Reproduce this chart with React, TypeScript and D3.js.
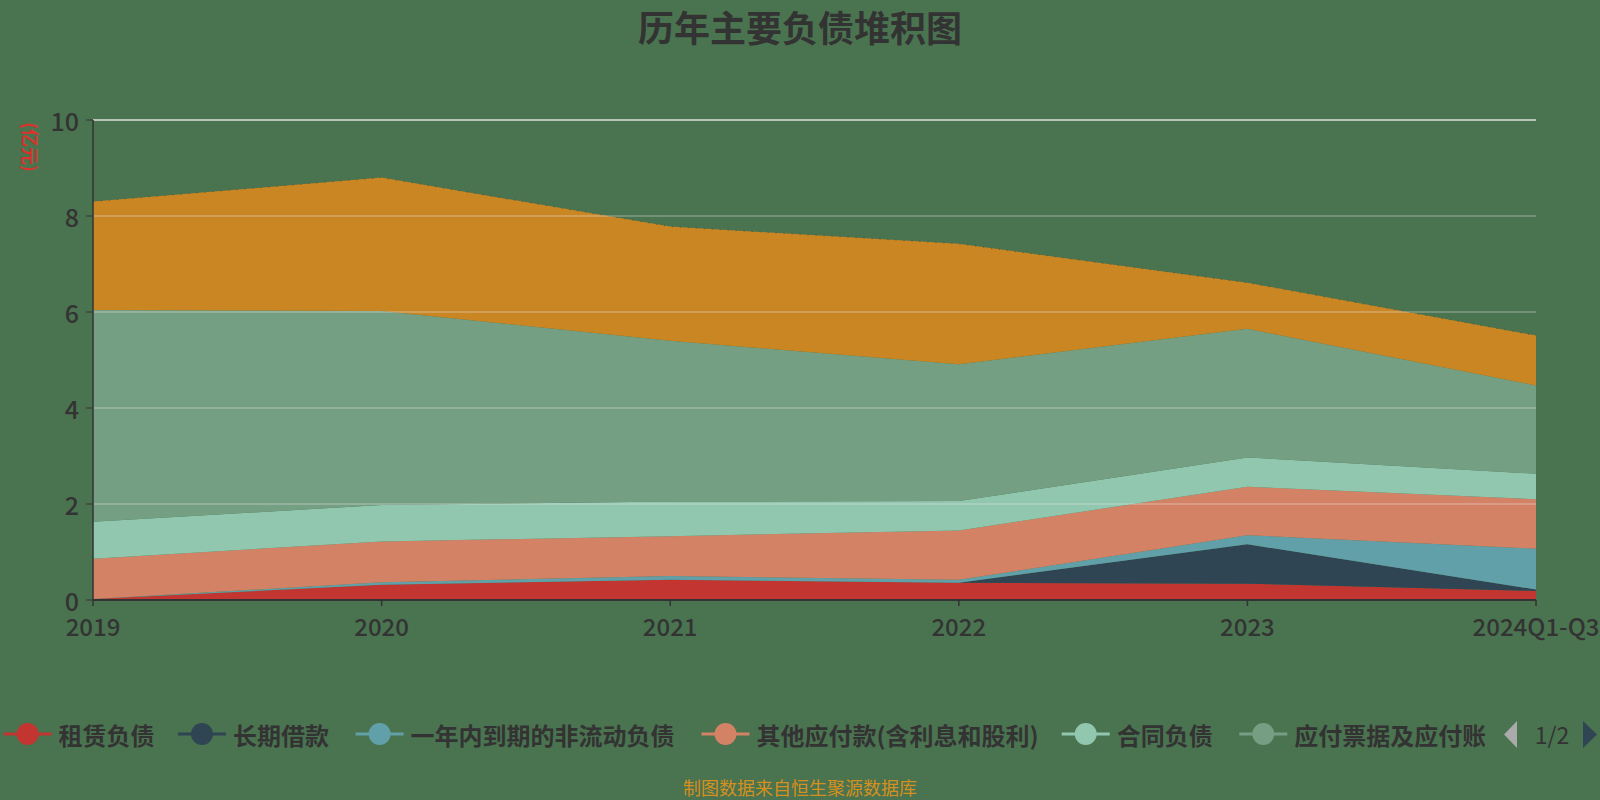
import React from 'react';
import * as d3 from 'd3';

const years = ['2019', '2020', '2021', '2022', '2023', '2024Q1-Q3'];
const seriesNames = ['租赁负债', '长期借款', '一年内到期的非流动负债', '其他应付款(含利息和股利)', '合同负债', '应付票据及应付账款', '短期借款'];
const leaseLiab = [0.02, 0.32, 0.42, 0.36, 0.34, 0.19];
const longLoan = [0, 0, 0, 0, 0.82, 0.03];
const currentNonCurrent = [0, 0.05, 0.08, 0.06, 0.19, 0.85];
const otherPayables = [0.84, 0.85, 0.83, 1.03, 1.01, 1.03];
const contractLiab = [0.77, 0.76, 0.72, 0.61, 0.61, 0.53];
const notesPayable = [4.41, 4.04, 3.35, 2.85, 2.68, 1.84];
const shortLoan = [2.26, 2.78, 2.38, 2.51, 0.96, 1.04];
const yTicks = [0, 2, 4, 6, 8, 10];
const colors = ['#c23531', '#2f4554', '#61a0a8', '#d48265', '#91c7ae', '#749f83', '#ca8622'];

const W = 1600, H = 800;
const FONT = '"Noto Sans CJK SC", "Noto Sans", sans-serif';

export default function App() {
  const allSeries = [leaseLiab, longLoan, currentNonCurrent, otherPayables, contractLiab, notesPayable, shortLoan];
  const table = years.map((y, i) => {
    const row: any = { year: y };
    seriesNames.forEach((n, k) => { row[n] = allSeries[k][i]; });
    return row;
  });
  const stacked = d3.stack().keys(seriesNames)(table as any);
  const x = d3.scalePoint().domain(years).range([93, 1536]);
  const y = d3.scaleLinear().domain([0, 10]).range([600, 120]);
  const area = d3.area<any>()
    .x((d: any) => x(d.data.year) as number)
    .y0((d: any) => y(d[0]))
    .y1((d: any) => y(d[1]));
  const line = d3.line<any>()
    .x((d: any) => x(d.data.year) as number)
    .y((d: any) => y(d[1]));

  const legendMarkers = [27.6, 202, 379.6, 725.5, 1085.7, 1263.3];

  return (
    <svg width={W} height={H} style={{ display: 'block', position: 'absolute', left: 0, top: 0 }} xmlns="http://www.w3.org/2000/svg">
      <defs>
        <clipPath id="legclip"><rect x={0} y={700} width={1485} height={60} /></clipPath>
      </defs>
      <rect x={0} y={0} width={W} height={H} fill="#4a7350" />
      <text x={800} y={26} textAnchor="middle" dominantBaseline="central" fontFamily={FONT} fontWeight="bold" fontSize={36} fill="#333">历年主要负债堆积图</text>

      {stacked.map((s: any, i: number) => (
        <path key={'a' + i} d={area(s) as string} fill={colors[i]} />
      ))}
      <path d={line(stacked[6] as any) as string} fill="none" stroke="#333" strokeWidth={1} strokeOpacity={0.6} strokeDasharray="1,7" />

      {yTicks.map((t) => (
        <g key={'g' + t}>
          <line x1={93} x2={1536} y1={y(t)} y2={y(t)} stroke="#e6e6e6" strokeOpacity={t === 10 ? 0.95 : 0.35} strokeWidth={1.5} />
          <line x1={86} x2={93} y1={y(t)} y2={y(t)} stroke="#333" strokeWidth={1} />
          <text x={79} y={y(t)} textAnchor="end" dominantBaseline="central" fontFamily={FONT} fontWeight={500} fontSize={25} fill="#333">{t}</text>
        </g>
      ))}
      <line x1={93} x2={93} y1={120} y2={600} stroke="#333" strokeWidth={1.5} />
      <line x1={93} x2={1536} y1={600} y2={600} stroke="#333" strokeWidth={2} />
      {years.map((yr) => (
        <g key={'x' + yr}>
          <line x1={x(yr)} x2={x(yr)} y1={600} y2={606} stroke="#333" strokeWidth={1.5} />
          <text x={x(yr)} y={625} textAnchor="middle" dominantBaseline="central" fontFamily={FONT} fontWeight={500} fontSize={24} fill="#333">{yr}</text>
        </g>
      ))}
      <text transform="translate(31,147) rotate(90)" textAnchor="middle" dominantBaseline="central" fontFamily={FONT} fontWeight="bold" fontSize={18} fill="#d9342b">(亿元)</text>

      <g clipPath="url(#legclip)">
        {legendMarkers.map((mx, i) => (
          <g key={'l' + i}>
            <line x1={mx - 24} x2={mx + 24} y1={734} y2={734} stroke={colors[i]} strokeWidth={3} />
            <circle cx={mx} cy={734} r={11} fill={colors[i]} />
            <text x={mx + 31} y={734} dominantBaseline="central" fontFamily={FONT} fontWeight="bold" fontSize={24} fill="#333">{seriesNames[i]}</text>
          </g>
        ))}
      </g>
      <path d="M1517,721 L1517,748 L1504,734.5 Z" fill="#aaa" />
      <text x={1552} y={734} textAnchor="middle" dominantBaseline="central" fontFamily={FONT} fontSize={23} fill="#333">1/2</text>
      <path d="M1583,721 L1583,748 L1597,734.5 Z" fill="#2f4554" />

      <text x={800} y={787} textAnchor="middle" dominantBaseline="central" fontFamily={FONT} fontSize={18} fill="#d4901e">制图数据来自恒生聚源数据库</text>
    </svg>
  );
}
